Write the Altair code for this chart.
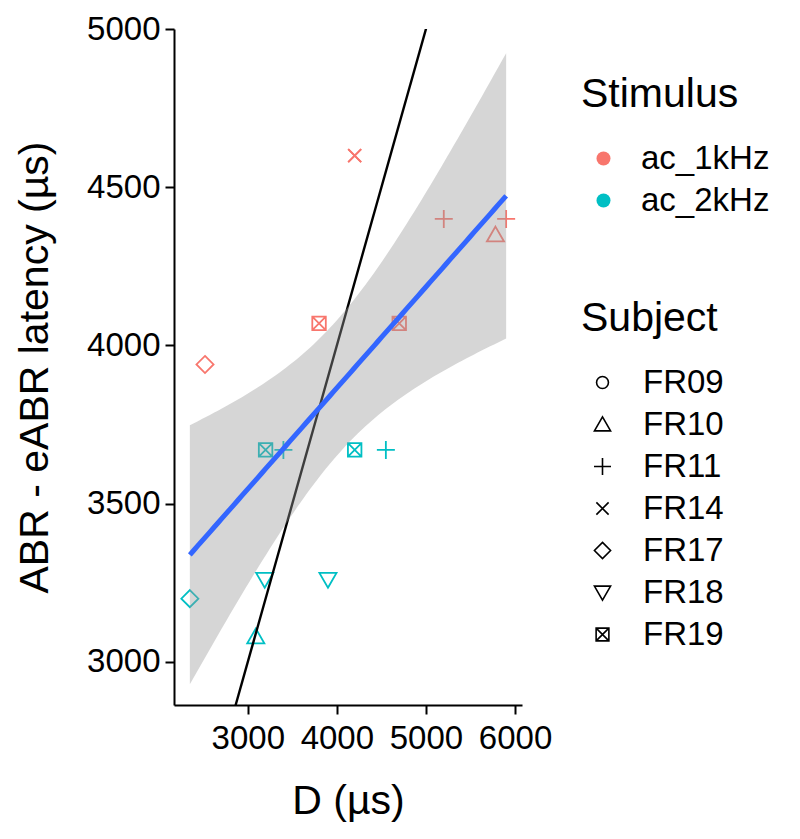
import altair as alt
import numpy as np
import pandas as pd

# ---- data ----
stimulus = ["ac_1kHz"] * 8 + ["ac_2kHz"] * 8
subject = ["FR14", "FR14", "FR11", "FR11", "FR10", "FR19", "FR19", "FR17",
           "FR19", "FR11", "FR19", "FR11", "FR18", "FR18", "FR17", "FR10"]
d_us = [4200, 4200, 5200, 5900, 5780, 3800, 4700, 2520,
        3200, 3400, 4200, 4550, 3190, 3900, 2350, 3090]
latency_us = [4600, 4600, 4400, 4400, 4350, 4070, 4070, 3940,
              3670, 3670, 3670, 3670, 3260, 3260, 3200, 3080]

subject_levels = ["FR09", "FR10", "FR11", "FR14", "FR17", "FR18", "FR19"]
stimulus_levels = ["ac_1kHz", "ac_2kHz"]
stim_colors = ["#F8766D", "#00BFC4"]
shape_paths = [
    "M0.7,0A0.7,0.7,0,1,1,-0.7,0A0.7,0.7,0,1,1,0.7,0Z",          # circle
    "M0,-0.9L0.95,0.75L-0.95,0.75Z",                              # triangle up
    "M-1,0L1,0M0,-1L0,1",                                          # plus
    "M-0.72,-0.72L0.72,0.72M-0.72,0.72L0.72,-0.72",                # cross
    "M0,-0.95L0.95,0L0,0.95L-0.95,0Z",                             # diamond
    "M0,0.9L0.95,-0.75L-0.95,-0.75Z",                              # triangle down
    "M-0.75,-0.75L0.75,-0.75L0.75,0.75L-0.75,0.75ZM-0.75,-0.75L0.75,0.75M-0.75,0.75L0.75,-0.75",  # square cross
]

x_domain = [2172, 6078]
y_domain = [2864, 5000]
x_ticks = [3000, 4000, 5000, 6000]
y_ticks = [3000, 3500, 4000, 4500, 5000]

df = pd.DataFrame({"Stimulus": stimulus, "Subject": subject,
                   "D": d_us, "latency": latency_us})

# ---- linear fit with 95% confidence band ----
x = np.array(d_us, float)
y = np.array(latency_us, float)
n = len(x)
slope, intercept = np.polyfit(x, y, 1)
resid = y - (intercept + slope * x)
s = np.sqrt(np.sum(resid ** 2) / (n - 2))
t975 = 2.1448  # Student t 0.975 quantile, df = 14
xs = np.linspace(x.min(), x.max(), 80)
fit = intercept + slope * xs
se = s * np.sqrt(1 / n + (xs - x.mean()) ** 2 / np.sum((x - x.mean()) ** 2))
band = pd.DataFrame({"D": xs, "fit": fit, "lo": fit - t975 * se, "hi": fit + t975 * se})

# identity line y = x
ident = pd.DataFrame({"D": x_domain, "yy": x_domain})

FONT = "Liberation Sans"
xscale = alt.Scale(domain=x_domain, nice=False, zero=False)
yscale = alt.Scale(domain=y_domain, nice=False, zero=False)
cscale = alt.Scale(domain=stimulus_levels, range=stim_colors)

xenc = alt.X("D:Q", scale=xscale,
             axis=alt.Axis(values=x_ticks, format="d", title="D (µs)",
                           titlePadding=26, labelPadding=8))
yenc = alt.Y("latency:Q", scale=yscale,
             axis=alt.Axis(values=y_ticks, format="d", title="ABR - eABR latency (µs)",
                           titlePadding=30, labelPadding=5))

points = alt.Chart(df).mark_point(filled=False, strokeWidth=1.8, size=324, opacity=1).encode(
    x=xenc, y=yenc,
    color=alt.Color("Stimulus:N", scale=cscale, legend=None),
    shape=alt.Shape("Subject:N",
                    scale=alt.Scale(domain=subject_levels, range=shape_paths),
                    legend=alt.Legend(orient="none", legendX=407, legendY=270,
                                      symbolSize=289, symbolStrokeColor="black",
                                      symbolStrokeWidth=1.6, symbolOffset=5,
                                      labelOffset=24, titlePadding=26)),
)

# invisible layer that only carries the filled-dot colour legend
color_key = alt.Chart(df).mark_point(filled=True, size=0, shape="circle").encode(
    x=alt.X("D:Q", scale=xscale), y=alt.Y("latency:Q", scale=yscale),
    color=alt.Color("Stimulus:N", scale=cscale,
                    legend=alt.Legend(orient="none", legendX=407, legendY=46,
                                      symbolType="circle", symbolSize=196,
                                      symbolOpacity=1, symbolStrokeWidth=0,
                                      symbolOffset=6, labelOffset=21, titlePadding=26)),
)

identity = alt.Chart(ident).mark_line(color="black", strokeWidth=2.4, clip=True).encode(
    x=alt.X("D:Q", scale=xscale), y=alt.Y("yy:Q", scale=yscale))

ribbon = alt.Chart(band).mark_area(color="#999999", opacity=0.4).encode(
    x=alt.X("D:Q", scale=xscale), y=alt.Y("lo:Q", scale=yscale), y2="hi:Q")

regline = alt.Chart(band).mark_line(color="#3366FF", strokeWidth=5).encode(
    x=alt.X("D:Q", scale=xscale), y=alt.Y("fit:Q", scale=yscale))

chart = alt.layer(points, color_key, identity, ribbon, regline).resolve_legend(
    color="independent"
).properties(
    width=348, height=676, padding={"left": 6, "top": 5, "right": 5, "bottom": 5}
).configure_view(stroke=None).configure_axis(
    grid=False, domainColor="black", domainWidth=2, tickColor="black", tickWidth=2,
    tickSize=9, labelFont=FONT, labelFontSize=33, labelColor="black",
    titleFont=FONT, titleFontSize=41, titleFontWeight="normal", titleColor="black",
).configure_legend(
    labelFont=FONT, labelFontSize=33, labelColor="black",
    titleFont=FONT, titleFontSize=41, titleFontWeight="normal", titleColor="black",
    padding=0, rowPadding=8,
)

chart.save("out.html", embed_options={"renderer": "svg", "actions": False})
